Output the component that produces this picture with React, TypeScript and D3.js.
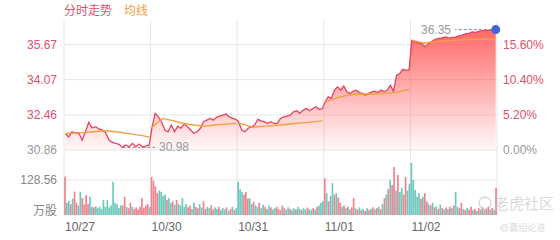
import React from 'react';
import * as d3 from 'd3';

const DAYS = ['10/27', '10/30', '10/31', '11/01', '11/02'];
const PRICE_TICKS = [30.86, 32.46, 34.07, 35.67];
const PCT_TICKS = ['0.00%', '5.20%', '10.40%', '15.60%'];
const VOL_TICK = 128.56;

const P1 = [31.62, 31.46, 31.69, 31.63, 31.65, 31.31, 31.69, 32.12, 31.86, 31.92, 31.82, 31.77, 31.65, 31.31, 31.21, 31.16, 31.12, 30.98, 31.09, 31.01, 31.16, 31.01, 31.13, 31.0, 31.04, 31.09];
const P2 = [31.86, 32.53, 32.37, 32.15, 31.77, 31.69, 32.0, 31.69, 31.95, 31.85, 32.04, 31.92, 31.77, 31.62, 31.69, 31.85, 32.15, 32.22, 32.3, 32.22, 32.35, 32.41, 32.45, 32.5, 32.37, 32.3, 32.26];
const P3 = [32.15, 31.77, 31.69, 31.85, 31.92, 32.0, 32.26, 32.19, 32.15, 32.07, 32.15, 32.07, 32.07, 32.3, 32.37, 32.41, 32.45, 32.6, 32.65, 32.53, 32.68, 32.75, 32.65, 32.75, 32.83, 32.71, 32.75];
const P4 = [33.06, 33.28, 33.21, 33.59, 33.74, 33.59, 33.78, 33.51, 33.44, 33.54, 33.59, 33.48, 33.44, 33.36, 33.44, 33.51, 33.54, 33.48, 33.59, 33.51, 33.59, 33.81, 33.54, 34.27, 34.35, 34.54, 34.5, 34.5];
const P5 = [35.86, 35.8, 35.74, 35.71, 35.56, 35.72, 35.8, 35.91, 35.95, 35.97, 36.01, 35.96, 35.99, 36.01, 36.06, 36.1, 36.15, 36.18, 36.24, 36.22, 36.27, 36.3, 36.32, 36.31, 36.33, 36.35];

const A1 = [31.62, 31.64, 31.69, 31.74, 31.66, 31.56, 31.46];
const A2 = [31.9, 32.3, 32.2, 32.07, 32.0, 31.95, 32.0, 32.04, 32.07];
const A3 = [32.1, 31.9, 31.95, 32.0, 32.07, 32.12, 32.19];
const A4 = [33.04, 33.24, 33.38, 33.41, 33.41, 33.43, 33.5, 33.63];
const A5 = [35.86, 35.74, 35.8, 35.85, 35.88, 35.9, 35.91, 35.92];

const V1 = [141, 45, 52, 40, 60, 86, 45, 35, 85, 62, 38, 73, 40, 67, 30, 28, 32, 25, 30, 22, 55, 30, 55, 28, 35, 122, 45, 40, 25, 35, 35, 67, 30, 25, 45, 30, 22, 28, 20, 30, 62, 25, 35, 40, 30];
const V2 = [140, 125, 105, 80, 90, 85, 70, 75, 55, 62, 45, 50, 38, 55, 40, 35, 62, 30, 40, 28, 35, 22, 45, 30, 25, 40, 28, 50, 22, 30, 25, 35, 20, 28, 22, 30, 18, 25, 20, 28, 15, 22, 30, 18, 25];
const V3 = [122, 95, 85, 75, 85, 60, 62, 40, 48, 35, 30, 45, 25, 38, 30, 22, 35, 28, 20, 25, 30, 22, 18, 35, 25, 20, 28, 22, 18, 25, 20, 30, 22, 18, 25, 20, 28, 22, 18, 25, 20, 30, 35, 45, 50];
const V4 = [135, 80, 50, 70, 117, 75, 80, 65, 45, 30, 35, 25, 30, 20, 28, 62, 25, 20, 28, 18, 22, 15, 25, 18, 22, 28, 20, 25, 30, 22, 40, 62, 75, 95, 128, 110, 176, 90, 147, 85, 100, 75, 140, 90, 115];
const V5 = [191, 128, 92, 67, 80, 60, 67, 80, 50, 40, 35, 45, 28, 32, 22, 38, 25, 20, 28, 22, 30, 25, 35, 85, 30, 25, 45, 22, 18, 25, 20, 30, 18, 22, 15, 25, 20, 28, 18, 22, 30, 20, 25, 18, 100];

const D1 = 'rggrgrrggrrrrggrggggggggggggggrrgrrgrrrrrrrrg';
const D2 = 'rrrrggggrggrgrgggggrrggrrggrrggrrggrgggrgrgrgg';
const D3 = 'gggrrrggrggrggrggrggrrgrrggrggrggrggrggrgrggg';
const D4 = 'rgrggrgrrgrgrgrrgrgrgrgrgrgrgrgrgrgrrgrggrrgg';
const D5 = 'gggggrgrrgrgrgrgrgrgrgrggrrgrgrrgrgrgrgrrgrgr';

const PRICES = [P1, P2, P3, P4, P5];
const AVGS = [A1, A2, A3, A4, A5];
const VOLS = [V1, V2, V3, V4, V5];
const DIRS = [D1, D2, D3, D4, D5];

const W = 560;
const H = 240;
const RED = '#e0506c';
const ORANGE = '#f2a040';
const GRID = '#e6e6e6';
const FONT = '"Liberation Sans", "Noto Sans CJK SC", sans-serif';

export default function App() {
  const x = d3.scaleLinear().domain([0, DAYS.length]).range([64, 497]);
  const y = d3.scaleLinear().domain([PRICE_TICKS[0], PRICE_TICKS[3]]).range([150, 44.5]);
  const yv = d3.scaleLinear().domain([0, VOL_TICK]).range([215, 180]);

  const pos = (d: number, i: number, n: number) => d + 0.015 + (0.97 * i) / (n - 1);

  const pts: [number, number][] = [];
  PRICES.forEach((arr, d) => arr.forEach((v, i) => pts.push([pos(d, i, arr.length), v])));

  const line = d3.line<[number, number]>().x((p) => x(p[0])).y((p) => y(p[1]));
  const area = d3
    .area<[number, number]>()
    .x((p) => x(p[0]))
    .y0(150)
    .y1((p) => y(p[1]));

  const avgPaths = AVGS.map((arr, d) =>
    line(arr.map((v, i) => [pos(d, i, arr.length), v] as [number, number]))
  );

  const maxP = pts.reduce((a, b) => (b[1] > a[1] ? b : a));
  const minP = pts.reduce((a, b) => (b[1] < a[1] ? b : a));
  const last = pts[pts.length - 1];

  const bars: { x: number; v: number; c: string }[] = [];
  VOLS.forEach((arr, d) =>
    arr.forEach((v, i) =>
      bars.push({ x: d + (i + 0.5) / arr.length, v, c: DIRS[d][i] === 'r' ? '#f07482' : '#5ec2b6' })
    )
  );
  const bw = ((x(1) - x(0)) / V1.length) * 0.88;

  return (
    <svg width={W} height={H} style={{ display: 'block', position: 'absolute', left: 0, top: 0 }} fontFamily={FONT}>
      <defs>
        <linearGradient id="fillG" gradientUnits="userSpaceOnUse" x1="0" y1="25" x2="0" y2="150">
          <stop offset="0" stopColor="rgb(255,92,92)" stopOpacity={0.95} />
          <stop offset="1" stopColor="rgb(255,92,92)" stopOpacity={0.04} />
        </linearGradient>
      </defs>
      {/* legend */}
      <text x={64} y={15} fontSize={12} fill={RED}>分时走势</text>
      <text x={124} y={15} fontSize={12} fill={ORANGE}>均线</text>

      {/* grid */}
      {d3.range(DAYS.length + 1).map((d) => (
        <line key={'v' + d} x1={x(d)} x2={x(d)} y1={20} y2={215} stroke={GRID} strokeWidth={1} />
      ))}
      {PRICE_TICKS.map((t) => (
        <line key={'h' + t} x1={64} x2={497} y1={y(t)} y2={y(t)} stroke={GRID} strokeWidth={1} />
      ))}
      <line x1={64} x2={497} y1={yv(VOL_TICK)} y2={yv(VOL_TICK)} stroke={GRID} strokeWidth={1} />

      {/* price area & line */}
      <path d={area(pts) || ''} fill="url(#fillG)" />
      <path d={line(pts) || ''} fill="none" stroke="#e8405f" strokeWidth={1.3} />
      {avgPaths.map((p, i) => (
        <path key={'a' + i} d={p || ''} fill="none" stroke={ORANGE} strokeWidth={1.4} />
      ))}

      {/* max / min annotations */}
      <line x1={x(maxP[0]) - 4} x2={455} y1={y(maxP[1])} y2={y(maxP[1])} stroke="#888" strokeDasharray="3,2" />
      <text x={451} y={y(maxP[1]) + 4} fontSize={12} fill="#999" textAnchor="end">{maxP[1].toFixed(2)}</text>
      <circle cx={x(last[0])} cy={y(last[1])} r={4.5} fill="#4262d8" />
      <line x1={x(minP[0])} x2={155} y1={y(minP[1])} y2={y(minP[1])} stroke="#888" strokeDasharray="3,2" />
      <text x={159} y={y(minP[1]) + 4} fontSize={12} fill="#999">{minP[1].toFixed(2)}</text>

      {/* volume bars */}
      {bars.map((b, i) => (
        <rect key={'b' + i} x={x(b.x) - bw / 2} width={bw} y={yv(b.v)} height={215 - yv(b.v)} fill={b.c} opacity={0.9} />
      ))}

      {/* left axis labels */}
      {PRICE_TICKS.map((t, i) => (
        <text key={'l' + t} x={57} y={y(t) + 4} fontSize={12} textAnchor="end" fill={i === 0 ? '#999' : RED}>
          {t.toFixed(2)}
        </text>
      ))}
      {PCT_TICKS.map((t, i) => (
        <text key={'r' + t} x={503} y={y(PRICE_TICKS[i]) + 4} fontSize={12} fill={i === 0 ? '#999' : RED}>
          {t}
        </text>
      ))}
      <text x={57} y={yv(VOL_TICK) + 4} fontSize={12} textAnchor="end" fill="#888">{VOL_TICK.toFixed(2)}</text>
      <text x={57} y={215} fontSize={12} textAnchor="end" fill="#888">万股</text>

      {/* date labels */}
      {DAYS.map((d, i) => (
        <text key={d} x={x(i) + 1} y={231} fontSize={12} fill="#666">{d}</text>
      ))}

      {/* watermark */}
      <g opacity={0.55}>
        <circle cx={485} cy={203} r={6} fill="none" stroke="#bbb" strokeWidth={1.5} />
        <text x={494} y={209} fontSize={15} fill="#bbb">老虎社区</text>
        <text x={500} y={231} fontSize={9} fill="#bbb">@赢绍论道</text>
      </g>
    </svg>
  );
}
